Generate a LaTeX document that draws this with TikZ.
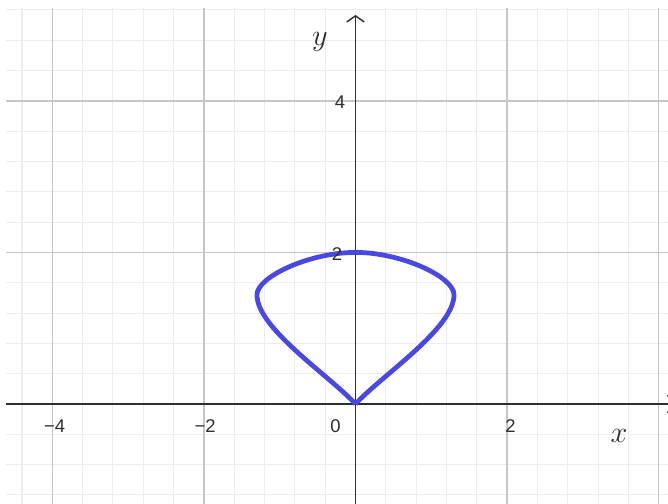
\documentclass[tikz,border=0pt]{standalone}
\usepackage{fontspec}
\newfontfamily\tickfont{Liberation Sans}
\usetikzlibrary{arrows.meta}
\definecolor{gridminor}{HTML}{EDEDED}
\definecolor{gridmajor}{HTML}{C6C6C6}
\definecolor{axiscol}{HTML}{2E2E2E}
\definecolor{curvecol}{HTML}{4848E4}

\begin{document}
\begin{tikzpicture}[x=1.516cm, y=1.516cm,
    minorline/.style={gridminor, line width=0.6pt},
    majorline/.style={gridmajor, line width=0.8pt},
    axisline/.style={axiscol, line width=0.8pt},
    ticklab/.style={inner sep=0pt, text=axiscol, font=\tickfont\fontsize{10.5}{12}\selectfont},
    axislab/.style={inner sep=0pt, text=axiscol, font=\fontsize{17}{20}\selectfont}]
    % Riquadro
    \useasboundingbox (-4.690,-1.319) rectangle (4.123,5.330);
    \clip (-4.690,-1.319) rectangle (4.123,5.330);

    % Griglia secondaria
    \foreach \i in {-11,...,10} {
        \draw[minorline] (0.4*\i,-1.319) -- (0.4*\i,5.23);
    }
    \foreach \j in {-3,...,13} {
        \draw[minorline] (-4.61,0.4*\j) -- (4.123,0.4*\j);
    }

    % Griglia principale
    \foreach \x in {-4,-2,2,4} {
        \draw[majorline] (\x,-1.319) -- (\x,5.23);
    }
    \foreach \y in {2,4} {
        \draw[majorline] (-4.61,\y) -- (4.123,\y);
    }

    % Assi
    \draw[axisline, -{Straight Barb[length=3.5pt,width=10pt]}] (-4.61,0) -- (4.21,0);
    \draw[axisline, -{Straight Barb[length=3.5pt,width=10pt]}] (0,-1.319) -- (0,5.132);

    % Curva
    \draw[curvecol, line width=2.7pt, line join=round]
        (0,0) .. controls (-0.35,0.38) and (-1.30,1.0) .. (-1.30,1.44)
        .. controls (-1.30,1.68) and (-0.6,2) .. (0,2)
        .. controls (0.6,2) and (1.30,1.68) .. (1.30,1.44)
        .. controls (1.30,1.0) and (0.35,0.38) .. (0,0);

    % Etichette sugli assi
    \foreach \x/\lab/\nm in {-3.968/{−4}/xm4, -1.985/{−2}/xm2, -0.264/{0}/xz, 2.045/{2}/xp2} {
        \node[ticklab] (\nm) at (\x,-0.297) {\lab};
    }
    \node[ticklab] (yp2) at (-0.244,1.979) {2};
    \node[ticklab] (yp4) at (-0.205,3.980) {4};

    % Nomi degli assi
    \node[axislab] (xlab) at (3.476,-0.422) {$x$};
    \node[axislab] (ylab) at (-0.468,4.776) {$y$};
\end{tikzpicture}
\end{document}
